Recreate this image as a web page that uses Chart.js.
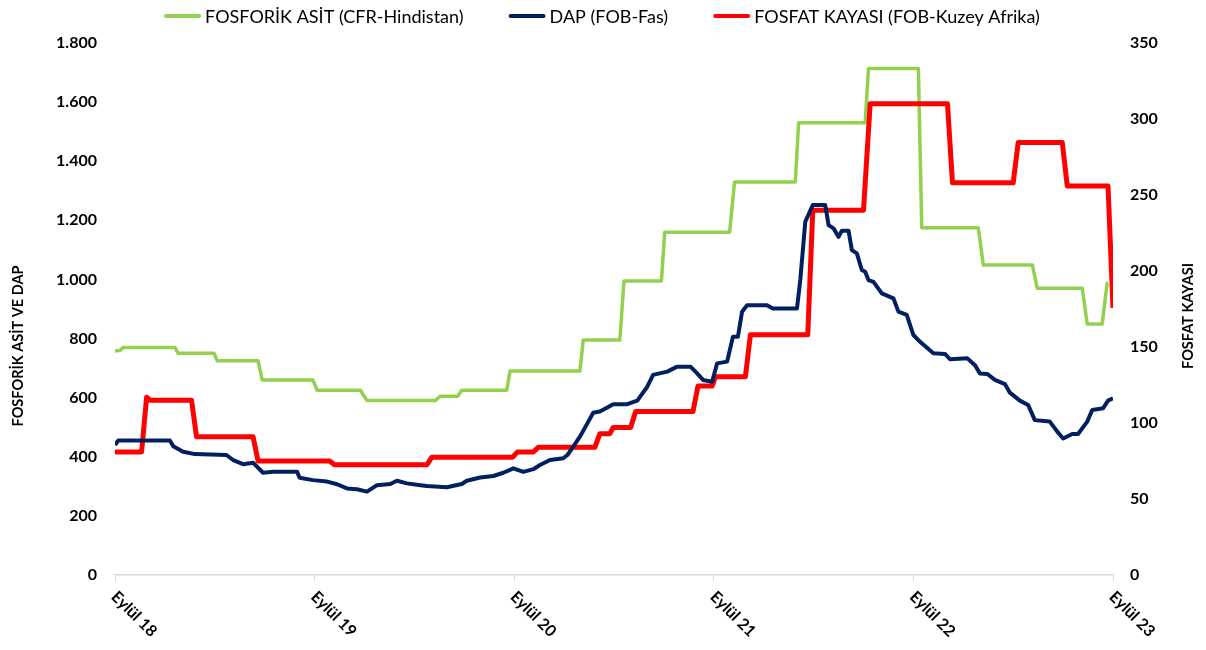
<!DOCTYPE html>
<html lang="tr">
<head>
<meta charset="UTF-8">
<title>Fosforik Asit, DAP ve Fosfat Kayası Fiyatları</title>
<script src="https://cdn.jsdelivr.net/npm/chart.js@4/dist/chart.umd.min.js"></script>
<style>
    body { margin: 0; padding: 0; background: #fff; }
    #wrap { width: 1206px; height: 650px; position: relative; }
</style>
</head>
<body>
<div id="wrap"><canvas id="chart" width="1206" height="650"></canvas></div>
<script>
// x ekseni: Eylül 18'den itibaren ay sayısı
const yearLabels = ['Eylül 18', 'Eylül 19', 'Eylül 20', 'Eylül 21', 'Eylül 22', 'Eylül 23'];

// FOSFORİK ASİT (CFR-Hindistan) - sol eksen
const fosforikX = [0, 0.3, 0.5, 3.6, 3.8, 5.95, 6.15, 8.6, 8.85, 11.9, 12.15, 14.75, 15.15, 19.25, 19.55, 20.6, 20.85,
    23.55, 23.75, 27.95, 28.15, 30.35, 30.6, 32.85, 33.05, 36.95, 37.25, 40.9, 41.1, 45.1, 45.3, 48.3, 48.5,
    51.9, 52.2, 55.15, 55.45, 58.15, 58.45, 59.35, 59.65, 59.7];
const fosforikY = [758, 760, 770, 770, 750, 750, 725, 725, 660, 660, 625, 625, 590, 590, 605, 605, 625,
    625, 690, 690, 795, 795, 995, 995, 1160, 1160, 1330, 1330, 1530, 1530, 1714, 1714, 1175,
    1175, 1049, 1049, 970, 970, 849, 849, 988, 988];

// DAP (FOB-Fas) - sol eksen
const dapX = [0, 0.2, 3.3, 3.5, 4.1, 4.8, 6.7, 7.1, 7.7, 8.3,
    8.9, 9.5, 10.95, 11.1, 11.9, 12.75, 13.35, 13.95, 14.55, 15.15,
    15.75, 16.55, 16.95, 17.55, 18.35, 18.75, 19.95, 20.85, 21.15, 21.95,
    22.75, 23.35, 23.95, 24.55, 25.15, 25.55, 26.15, 26.95, 27.2, 27.55,
    27.95, 28.4, 28.75, 29.15, 29.6, 29.95, 30.8, 31.4, 32.0, 32.35,
    33.2, 33.8, 34.6, 35.0, 35.35, 35.9, 36.2, 36.8, 37.15, 37.45,
    37.7, 38.0, 39.2, 39.55, 41.0, 41.2, 41.5, 41.95, 42.7, 42.9,
    43.2, 43.5, 43.7, 44.1, 44.3, 44.6, 44.9, 45.1, 45.3, 45.6,
    46.1, 46.8, 47.1, 47.6, 48.0, 48.4, 49.2, 49.9, 50.2, 51.25,
    51.7, 52.0, 52.45, 52.9, 53.5, 53.8, 54.4, 54.9, 55.3, 56.2,
    56.65, 57.0, 57.55, 57.9, 58.45, 58.75, 59.4, 59.7, 60];
const dapY = [440, 455, 455, 436, 417, 409, 406, 389, 375, 380,
    346, 349, 349, 329, 321, 316, 307, 293, 290, 282,
    304, 308, 319, 310, 304, 301, 297, 308, 319, 330,
    335, 346, 361, 349, 358, 372, 389, 395, 406, 434,
    468, 513, 549, 553, 567, 578, 578, 590, 637, 677,
    688, 705, 705, 682, 660, 654, 716, 722, 806, 806,
    891, 913, 913, 902, 902, 998, 1195, 1252, 1252, 1184,
    1173, 1144, 1165, 1165, 1099, 1088, 1032, 1026, 998, 992,
    953, 936, 891, 880, 812, 789, 750, 748, 730, 733,
    710, 682, 680, 660, 646, 617, 590, 575, 524, 519,
    485, 462, 477, 477, 519, 558, 564, 590, 598];

// FOSFAT KAYASI (FOB-Kuzey Afrika) - sağ eksen
const fosfatX = [0, 1.6, 1.9, 2.1, 4.6, 4.9, 8.3, 8.6, 12.9, 13.2, 18.75, 19.05, 23.9, 24.2, 25.15, 25.45,
    28.85, 29.15, 29.75, 29.95, 31.0, 31.3, 34.75, 35.05, 35.9, 36.1, 37.9, 38.2, 41.65, 41.95,
    45.0, 45.4, 50.05, 50.35, 54.0, 54.3, 56.95, 57.25, 59.7, 60];
const fosfatY = [81, 81, 117, 115, 115, 91, 91, 75, 75, 72.5, 72.5, 77.5, 77.5, 81, 81, 84,
    84, 93, 93, 97, 97, 107.5, 107.5, 124.3, 124.3, 130.5, 130.5, 158, 158, 240,
    240, 310, 310, 258, 258, 284.5, 284.5, 256, 256, 175.7];

const GREEN = '#92D050';
const NAVY = '#002060';
const RED = '#FF0000';
const FONT = 'Lato, "Open Sans", sans-serif';

function pts(xs, ys) {
    return xs.map((x, i) => ({ x: x, y: ys[i] }));
}

function fmt(v) {
    return String(v).replace(/\B(?=(\d{3})+(?!\d))/g, '.');
}

// eksen başlıkları, x etiketleri ve lejant
const extras = {
    id: 'extras',
    afterDraw(chart) {
        const ctx = chart.ctx;
        const xs = chart.scales.x;
        const bottom = chart.chartArea.bottom;
        ctx.save();
        ctx.fillStyle = '#000';

        // x etiketleri (45° aşağı doğru)
        ctx.font = 'bold 16px ' + FONT;
        ctx.textAlign = 'left';
        ctx.textBaseline = 'middle';
        yearLabels.forEach((lab, i) => {
            const px = xs.getPixelForValue(i * 12);
            ctx.save();
            ctx.translate(px - 1, bottom + 19);
            ctx.rotate(Math.PI / 4);
            ctx.fillText(lab, 0, 0);
            ctx.restore();
        });

        // eksen başlıkları
        ctx.font = 'bold 14.5px ' + FONT;
        ctx.textAlign = 'center';
        ctx.save();
        ctx.translate(18, 346);
        ctx.rotate(-Math.PI / 2);
        ctx.fillText('FOSFORİK ASİT VE DAP', 0, 0);
        ctx.restore();
        ctx.save();
        ctx.translate(1188, 316);
        ctx.rotate(-Math.PI / 2);
        ctx.fillText('FOSFAT KAYASI', 0, 0);
        ctx.restore();

        // lejant
        const items = [
            { label: 'FOSFORİK ASİT (CFR-Hindistan)', color: GREEN },
            { label: 'DAP (FOB-Fas)', color: NAVY },
            { label: 'FOSFAT KAYASI (FOB-Kuzey Afrika)', color: RED }
        ];
        ctx.font = '18px ' + FONT;
        const lineW = 37, gapText = 4, gapItem = 45;
        let total = 0;
        items.forEach((it, i) => {
            it.w = ctx.measureText(it.label).width;
            total += lineW + gapText + it.w + (i < items.length - 1 ? gapItem : 0);
        });
        let x = 602 - total / 2;
        const y = 16;
        ctx.textAlign = 'left';
        items.forEach(it => {
            ctx.strokeStyle = it.color;
            ctx.lineWidth = 4;
            ctx.lineCap = 'round';
            ctx.beginPath();
            ctx.moveTo(x + 2, y);
            ctx.lineTo(x + lineW - 2, y);
            ctx.stroke();
            x += lineW + gapText;
            ctx.fillText(it.label, x, y + 1);
            x += it.w + gapItem;
        });
        ctx.restore();
    }
};

new Chart(document.getElementById('chart'), {
    type: 'line',
    data: {
        datasets: [
            {
                label: 'FOSFORİK ASİT (CFR-Hindistan)',
                data: pts(fosforikX, fosforikY),
                borderColor: GREEN,
                borderWidth: 3.5,
                yAxisID: 'y',
                order: 3
            },
            {
                label: 'DAP (FOB-Fas)',
                data: pts(dapX, dapY),
                borderColor: NAVY,
                borderWidth: 4,
                yAxisID: 'y',
                order: 1
            },
            {
                label: 'FOSFAT KAYASI (FOB-Kuzey Afrika)',
                data: pts(fosfatX, fosfatY),
                borderColor: RED,
                borderWidth: 5,
                yAxisID: 'y1',
                order: 2
            }
        ]
    },
    options: {
        responsive: false,
        animation: false,
        layout: { padding: { top: 43, left: 0, right: 0, bottom: 0 } },
        elements: {
            point: { radius: 0, hoverRadius: 0 },
            line: { tension: 0, borderJoinStyle: 'round', fill: false }
        },
        plugins: {
            legend: { display: false },
            tooltip: { enabled: false }
        },
        scales: {
            x: {
                type: 'linear',
                min: 0,
                max: 60,
                ticks: { stepSize: 12, display: false },
                grid: { drawOnChartArea: false, drawTicks: true, tickLength: 6, color: '#d9d9d9' },
                border: { color: '#d9d9d9', width: 1.5 },
                afterFit(s) { s.height = 75; }
            },
            y: {
                position: 'left',
                min: 0,
                max: 1800,
                ticks: {
                    stepSize: 200,
                    padding: 10,
                    color: '#000',
                    font: { family: FONT, size: 16, weight: 'bold' },
                    callback: v => fmt(v)
                },
                grid: { display: false },
                border: { display: false },
                afterFit(s) { s.width = 115; }
            },
            y1: {
                position: 'right',
                min: 0,
                max: 350,
                ticks: {
                    stepSize: 50,
                    padding: 9,
                    color: '#000',
                    font: { family: FONT, size: 16, weight: 'bold' }
                },
                grid: { display: false },
                border: { display: false },
                afterFit(s) { s.width = 93; }
            }
        }
    },
    plugins: [extras]
});
</script>
</body>
</html>
